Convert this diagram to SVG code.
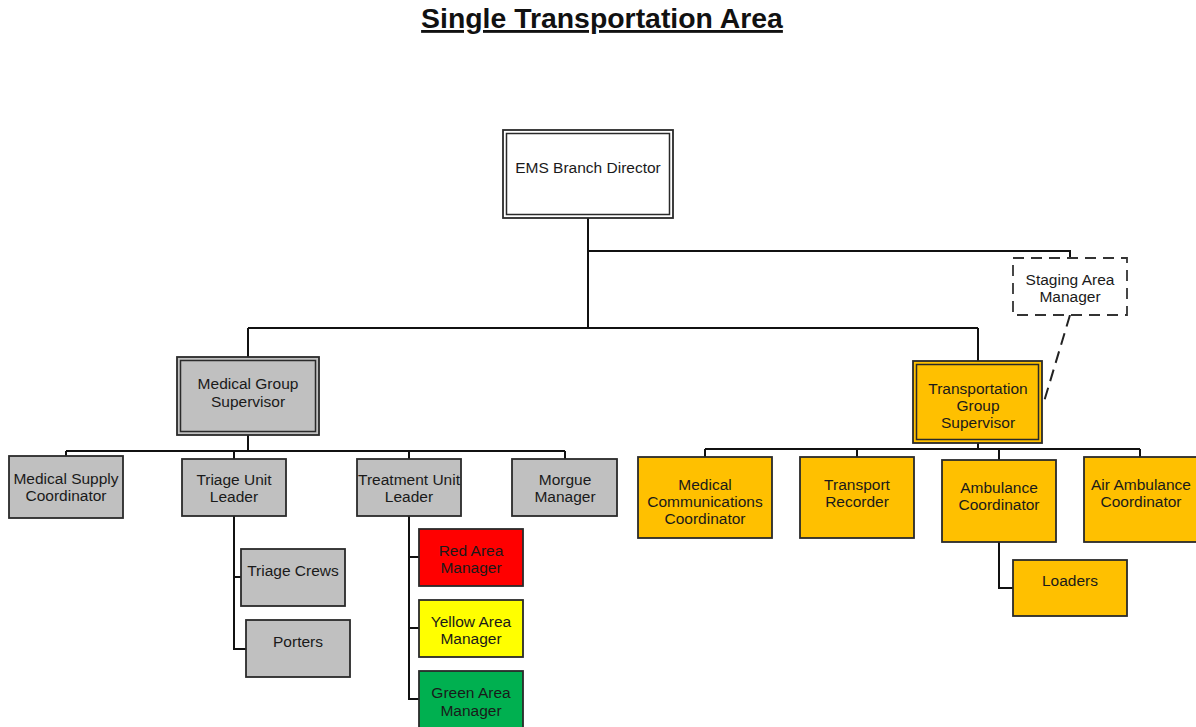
<svg xmlns="http://www.w3.org/2000/svg" width="1196" height="727" viewBox="0 0 1196 727">
<style>
.box{stroke:#2a2a2a;stroke-width:1.8}
.in{fill:none;stroke:#2a2a2a;stroke-width:1.5}
.gray{fill:#c0c0c0}
.org{fill:#ffc000}
.t{font-family:"Liberation Sans",Arial,sans-serif;font-size:15.5px;fill:#1a1a1a;text-anchor:middle}
.c{fill:none;stroke:#111;stroke-width:2}
</style>
<rect width="1196" height="727" fill="#fff"/>
<text x="602" y="28" font-family="Liberation Sans,Arial,sans-serif" font-size="28.4" font-weight="bold" text-anchor="middle" text-decoration="underline" fill="#111">Single Transportation Area</text>
<g id="connectors">
<path class="c" d="M588,218V328M588,251H1070V258M248,328H978M248,328V357M978,328V361"/>
<path d="M1070,315L1043,405" fill="none" stroke="#222" stroke-width="2" stroke-dasharray="12,7"/>
<path class="c" d="M248,435V451M66,451H565M66,451V456M234,451V459M409,451V459M565,451V459"/>
<path class="c" d="M234,516V649H246M234,577H241"/>
<path class="c" d="M409,516V699H419M409,557H419M409,628H419"/>
<path class="c" d="M978,443V449M705,449H1140M705,449V457M857,449V457M999,449V460M1140,449V457"/>
<path class="c" d="M999,542V588H1013"/>
</g>
<g id="ems">
<rect class="box" x="503" y="130" width="170" height="88" fill="#fff"/>
<rect class="in" x="506.5" y="133.5" width="163" height="81"/>
<text class="t" x="588" y="173">EMS Branch Director</text>
</g>
<g id="staging">
<rect x="1013" y="258" width="114" height="57" fill="#fff" stroke="#333" stroke-width="1.8" stroke-dasharray="11,7"/>
<text class="t" x="1070" y="285">Staging Area</text>
<text class="t" x="1070" y="302">Manager</text>
</g>
<g id="medical-group">
<rect class="box gray" x="177" y="357" width="142" height="78"/>
<rect class="in" x="180.5" y="360.5" width="135" height="71"/>
<text class="t" x="248" y="389">Medical Group</text>
<text class="t" x="248" y="407">Supervisor</text>
</g>
<g id="transport-group">
<rect class="box org" x="913" y="361" width="129" height="82"/>
<rect class="in" x="916.5" y="364.5" width="122" height="75"/>
<text class="t" x="978" y="394">Transportation</text>
<text class="t" x="978" y="411">Group</text>
<text class="t" x="978" y="428">Supervisor</text>
</g>
<g id="med-supply">
<rect class="box gray" x="9" y="456" width="114" height="62"/>
<text class="t" x="66" y="484">Medical Supply</text>
<text class="t" x="66" y="501">Coordinator</text>
</g>
<g id="triage">
<rect class="box gray" x="182" y="459" width="104" height="57"/>
<text class="t" x="234" y="485">Triage Unit</text>
<text class="t" x="234" y="502">Leader</text>
</g>
<g id="treatment">
<rect class="box gray" x="357" y="459" width="104" height="57"/>
<text class="t" x="409" y="485">Treatment Unit</text>
<text class="t" x="409" y="502">Leader</text>
</g>
<g id="morgue">
<rect class="box gray" x="512" y="459" width="105" height="57"/>
<text class="t" x="565" y="485">Morgue</text>
<text class="t" x="565" y="502">Manager</text>
</g>
<g id="triage-crews">
<rect class="box gray" x="241" y="549" width="104" height="57"/>
<text class="t" x="293" y="576">Triage Crews</text>
</g>
<g id="porters">
<rect class="box gray" x="246" y="620" width="104" height="57"/>
<text class="t" x="298" y="647">Porters</text>
</g>
<g id="red">
<rect class="box" x="419" y="529" width="104" height="57" fill="#ff0000"/>
<text class="t" x="471" y="556">Red Area</text>
<text class="t" x="471" y="573">Manager</text>
</g>
<g id="yellow">
<rect class="box" x="419" y="600" width="104" height="57" fill="#ffff00"/>
<text class="t" x="471" y="627">Yellow Area</text>
<text class="t" x="471" y="644">Manager</text>
</g>
<g id="green">
<rect class="box" x="419" y="671" width="104" height="60" fill="#00b050"/>
<text class="t" x="471" y="698">Green Area</text>
<text class="t" x="471" y="716">Manager</text>
</g>
<g id="med-comm">
<rect class="box org" x="638" y="457" width="134" height="81"/>
<text class="t" x="705" y="490">Medical</text>
<text class="t" x="705" y="507">Communications</text>
<text class="t" x="705" y="524">Coordinator</text>
</g>
<g id="transport-recorder">
<rect class="box org" x="800" y="457" width="114" height="81"/>
<text class="t" x="857" y="490">Transport</text>
<text class="t" x="857" y="507">Recorder</text>
</g>
<g id="ambulance">
<rect class="box org" x="942" y="460" width="114" height="82"/>
<text class="t" x="999" y="493">Ambulance</text>
<text class="t" x="999" y="510">Coordinator</text>
</g>
<g id="air-ambulance">
<rect class="box org" x="1084" y="457" width="120" height="85"/>
<text class="t" x="1141" y="490">Air Ambulance</text>
<text class="t" x="1141" y="507">Coordinator</text>
</g>
<g id="loaders">
<rect class="box org" x="1013" y="560" width="114" height="56"/>
<text class="t" x="1070" y="586">Loaders</text>
</g>
</svg>
